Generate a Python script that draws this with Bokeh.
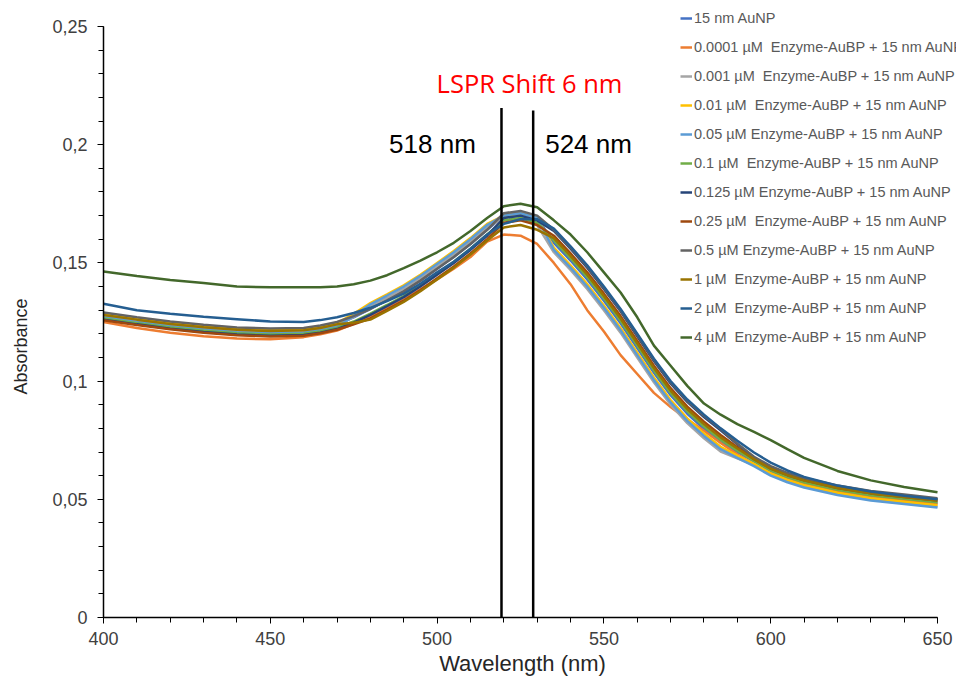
from bokeh.plotting import figure
from bokeh.models import (Range1d, FixedTicker, CustomJSTickFormatter, Legend,
                          LegendItem, Label)
from bokeh.embed import file_html
from bokeh.resources import INLINE

wavelength = [400, 410, 420, 430, 440, 450, 460, 465, 470, 475, 480, 485, 490, 495,
              500, 505, 510, 515, 520, 525, 530, 535, 540, 545, 550, 555, 560, 565,
              570, 575, 580, 585, 590, 595, 600, 605, 610, 620, 630, 640, 650]

au_15nm = [.1280, .1260, .1242, .1228, .1217, .1212, .1215, .1225, .1240, .1270,
           .1305, .1342, .1380, .1425, .1475, .1525, .1580, .1640,
           .1700, .1710, .1690,
           .1585, .1510, .1430, .1340, .1245, .1140, .1035, .0940, .0862, .0798, .0742, .0700,
           .0660, .0620, .0592, .0570, .0538, .0515, .0500, .0485]
enz_0_0001 = [.1250, .1225, .1205, .1190, .1180, .1177, .1186, .1198, .1214, .1242,
              .1275, .1308, .1345, .1388, .1430, .1475, .1525, .1590,
              .1620, .1615, .1580,
              .1500, .1410, .1300, .1210, .1110, .1030, .0950, .0890, .0838, .0790, .0738, .0690,
              .0648, .0610, .0585, .0565, .0532, .0510, .0495, .0480]
enz_0_001 = [.1275, .1255, .1237, .1223, .1212, .1207, .1210, .1220, .1235, .1272,
             .1315, .1352, .1390, .1435, .1485, .1535, .1590, .1650,
             .1690, .1700, .1660,
             .1545, .1470, .1390, .1300, .1205, .1100, .0995, .0900, .0822, .0758, .0702, .0673,
             .0645, .0605, .0577, .0555, .0523, .0500, .0485, .0470]
enz_0_01 = [.1285, .1265, .1247, .1233, .1222, .1217, .1220, .1230, .1245, .1285,
            .1330, .1367, .1405, .1450, .1500, .1550, .1605, .1665,
            .1700, .1710, .1690,
            .1565, .1490, .1410, .1320, .1225, .1120, .1015, .0920, .0842, .0778, .0722, .0685,
            .0650, .0610, .0582, .0560, .0528, .0505, .0490, .0475]
enz_0_05 = [.1270, .1250, .1232, .1218, .1207, .1202, .1205, .1215, .1230, .1275,
            .1325, .1362, .1400, .1445, .1495, .1545, .1600, .1660,
            .1700, .1710, .1690,
            .1555, .1480, .1400, .1310, .1215, .1110, .1005, .0910, .0832, .0768, .0712, .0675,
            .0640, .0600, .0572, .0550, .0518, .0495, .0480, .0465]
enz_0_1 = [.1265, .1245, .1227, .1213, .1202, .1197, .1200, .1210, .1225, .1252,
           .1285, .1322, .1360, .1405, .1455, .1505, .1560, .1620,
           .1680, .1690, .1670,
           .1595, .1520, .1440, .1350, .1255, .1150, .1045, .0950, .0872, .0808, .0752, .0706,
           .0662, .0622, .0594, .0572, .0540, .0517, .0502, .0487]
enz_0_125 = [.1260, .1240, .1222, .1208, .1197, .1192, .1195, .1205, .1220, .1247,
             .1280, .1317, .1355, .1400, .1450, .1500, .1555, .1615,
             .1690, .1700, .1680,
             .1635, .1560, .1480, .1390, .1295, .1190, .1085, .0990, .0912, .0848, .0792, .0733,
             .0675, .0635, .0607, .0585, .0553, .0530, .0515, .0500]
enz_0_25 = [.1257, .1237, .1219, .1205, .1194, .1189, .1192, .1202, .1217, .1240,
            .1265, .1302, .1340, .1385, .1435, .1485, .1540, .1600,
            .1670, .1680, .1660,
            .1615, .1540, .1460, .1370, .1275, .1170, .1065, .0970, .0892, .0828, .0772, .0720,
            .0670, .0630, .0602, .0580, .0548, .0525, .0510, .0495]
enz_0_5 = [.1290, .1270, .1252, .1238, .1227, .1222, .1225, .1235, .1250, .1275,
           .1305, .1342, .1380, .1425, .1475, .1525, .1580, .1640,
           .1710, .1720, .1700,
           .1640, .1565, .1485, .1395, .1300, .1195, .1090, .0995, .0917, .0853, .0797, .0735,
           .0680, .0640, .0612, .0590, .0558, .0535, .0520, .0505]
enz_1 = [.1280, .1260, .1242, .1228, .1217, .1212, .1215, .1225, .1240, .1247,
         .1260, .1297, .1335, .1380, .1430, .1480, .1535, .1595,
         .1650, .1660, .1640,
         .1605, .1530, .1450, .1360, .1265, .1160, .1055, .0960, .0882, .0818, .0762, .0715,
         .0670, .0630, .0602, .0580, .0548, .0525, .0510, .0495]
enz_2 = [.1327, .1300, .1285, .1272, .1262, .1252, .1250, .1258, .1270, .1288,
         .1310, .1338, .1370, .1412, .1460, .1505, .1560, .1620,
         .1665, .1685, .1685,
         .1645, .1570, .1490, .1400, .1305, .1200, .1095, .1000, .0922, .0858, .0800, .0748,
         .0698, .0655, .0622, .0595, .0558, .0533, .0515, .0500]
enz_4 = [.1464, .1445, .1428, .1415, .1400, .1397, .1397, .1397, .1400, .1410,
         .1425, .1448, .1478, .1510, .1545, .1585, .1635, .1690,
         .1740, .1750, .1735,
         .1680, .1620, .1545, .1460, .1375, .1270, .1150, .1065, .0980, .0905, .0858, .0818,
         .0785, .0750, .0712, .0675, .0620, .0580, .0552, .0530]

series_labels = [
    "15 nm AuNP",
    "0.0001 µM  Enzyme-AuBP + 15 nm AuNP",
    "0.001 µM  Enzyme-AuBP + 15 nm AuNP",
    "0.01 µM  Enzyme-AuBP + 15 nm AuNP",
    "0.05 µM Enzyme-AuBP + 15 nm AuNP",
    "0.1 µM  Enzyme-AuBP + 15 nm AuNP",
    "0.125 µM Enzyme-AuBP + 15 nm AuNP",
    "0.25 µM  Enzyme-AuBP + 15 nm AuNP",
    "0.5 µM Enzyme-AuBP + 15 nm AuNP",
    "1 µM  Enzyme-AuBP + 15 nm AuNP",
    "2 µM  Enzyme-AuBP + 15 nm AuNP",
    "4 µM  Enzyme-AuBP + 15 nm AuNP",
]
series_values = [au_15nm, enz_0_0001, enz_0_001, enz_0_01, enz_0_05, enz_0_1,
                 enz_0_125, enz_0_25, enz_0_5, enz_1, enz_2, enz_4]
colors = ["#4472C4", "#ED7D31", "#A5A5A5", "#FFC000", "#5B9BD5", "#70AD47",
          "#264478", "#9E480E", "#636363", "#997300", "#255E91", "#43682B"]

x_ticks = [400, 450, 500, 550, 600, 650]
y_ticks = [0, 0.05, 0.1, 0.15, 0.2, 0.25]

marker_nm = [519.3, 528.8]
marker_top = [0.2155, 0.2145]

# The frame covers the whole canvas; the axes are drawn at fixed locations
# (x = 400 nm, absorbance = 0) so that legend and titles are never clipped.
PX_PER_NM = 834 / 250
PX_PER_ABS = 591 / 0.25
x_start = 400 - 103 / PX_PER_NM
x_end = 650 + 19 / PX_PER_NM
y_start = 0 - 63 / PX_PER_ABS
y_end = 0.25 + 26 / PX_PER_ABS

p = figure(width=956, height=680, output_backend="svg", toolbar_location=None,
           x_range=Range1d(x_start, x_end), y_range=Range1d(y_start, y_end),
           min_border_left=0, min_border_right=0, min_border_top=0,
           min_border_bottom=0)
p.outline_line_color = None
p.xgrid.grid_line_color = None
p.ygrid.grid_line_color = None
p.background_fill_color = "white"
p.border_fill_color = "white"

items = []
for lab, vals, col in zip(series_labels, series_values, colors):
    r = p.line(wavelength, vals, line_color=col, line_width=2.5)
    items.append(LegendItem(label=lab, renderers=[r]))

p.segment(x0=marker_nm, y0=[0, 0], x1=marker_nm, y1=marker_top,
          line_color="black", line_width=2.5)

for ax in (p.xaxis[0], p.yaxis[0]):
    ax.axis_line_color = "black"
    ax.axis_line_width = 1.5
    ax.major_tick_line_color = "black"
    ax.minor_tick_line_color = "black"
    ax.major_tick_in = 0
    ax.major_tick_out = 6
    ax.minor_tick_in = 0
    ax.minor_tick_out = 5
    ax.major_label_text_font = "Liberation Sans"
    ax.major_label_text_color = "#404040"
    ax.major_label_text_font_size = "18px"

p.xaxis.fixed_location = 0
p.yaxis.fixed_location = 400
p.xaxis.bounds = (400, 650)
p.yaxis.bounds = (0, 0.25)

p.xaxis.ticker = FixedTicker(ticks=x_ticks, minor_ticks=list(range(400, 651, 10)))
p.yaxis.ticker = FixedTicker(ticks=y_ticks, minor_ticks=[i / 100 for i in range(0, 26)])
p.yaxis.formatter = CustomJSTickFormatter(
    code="if (tick == 0) { return '0'; } return tick.toFixed(2).replace(/0+$/, '').replace('.', ',');")
p.xaxis.major_label_standoff = 8
p.yaxis.major_label_standoff = 10

# axis titles
p.add_layout(Label(x=x_start + 20 / PX_PER_NM, y=(617 - 346) / PX_PER_ABS,
                   text="Absorbance", angle=90, angle_units="deg",
                   text_font="Liberation Sans", text_font_size="18px",
                   text_color="#262626", text_align="center", text_baseline="middle"))
p.add_layout(Label(x=x_start + 522 / PX_PER_NM, y=(617 - 663) / PX_PER_ABS,
                   text="Wavelength (nm)",
                   text_font="Liberation Sans", text_font_size="22px",
                   text_color="#262626", text_align="center", text_baseline="middle"))

p.add_layout(Label(x=527.7, y=0.2259, text="LSPR Shift 6 nm", text_color="#FF0000",
                   text_font="Open Sans", text_font_size="25.5px", text_align="center",
                   text_baseline="middle"))
p.add_layout(Label(x=498.6, y=0.2005, text="518 nm", text_color="black",
                   text_font="Liberation Sans", text_font_size="26px",
                   text_align="center", text_baseline="middle"))
p.add_layout(Label(x=545.4, y=0.2005, text="524 nm", text_color="black",
                   text_font="Liberation Sans", text_font_size="26px",
                   text_align="center", text_baseline="middle"))

legend = Legend(items=items, location=(680, 335))
legend.glyph_width = 12
legend.glyph_height = 16
legend.label_height = 16
legend.label_standoff = 2
legend.spacing = 13
legend.padding = 0
legend.margin = 0
legend.border_line_alpha = 0
legend.background_fill_alpha = 0
legend.label_text_font = "Liberation Sans"
legend.label_text_font_size = "14.5px"
legend.label_text_color = "#595959"
p.add_layout(legend)

open("out.html", "w").write(file_html(p, INLINE))
